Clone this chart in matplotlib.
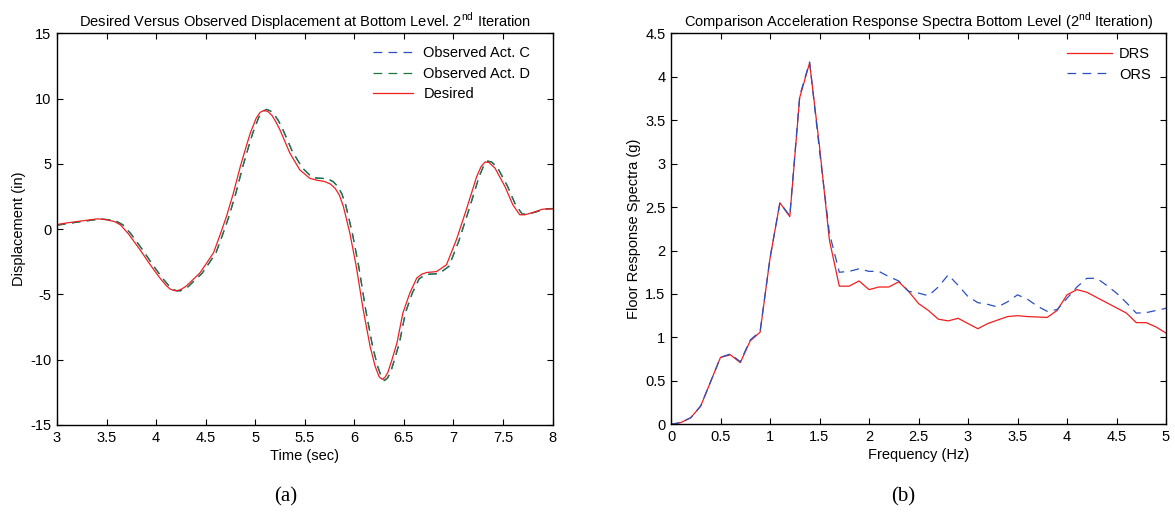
import matplotlib
matplotlib.use('Agg')
from matplotlib import pyplot as plt
from matplotlib.ticker import FuncFormatter

plt.rcParams['font.family'] = ['Liberation Sans', 'DejaVu Sans']
plt.rcParams['mathtext.fontset'] = 'custom'
plt.rcParams['mathtext.rm'] = 'Liberation Sans'

# Displacement history (time in sec, displacement in in)
t_des = [3.00, 3.10, 3.20, 3.30, 3.41, 3.50, 3.58, 3.64, 3.72, 3.84, 3.92, 3.99,
         4.05, 4.10, 4.14, 4.18, 4.22, 4.26, 4.30, 4.34,
         4.44, 4.51, 4.58, 4.645, 4.71, 4.78, 4.85, 4.90, 4.95,
         5.01, 5.05, 5.09, 5.13, 5.17, 5.21, 5.25,
         5.35, 5.45, 5.55, 5.62, 5.70, 5.76, 5.805, 5.85, 5.89, 5.955,
         6.02, 6.09, 6.16, 6.21, 6.25, 6.28, 6.31, 6.34, 6.38, 6.43, 6.49, 6.56,
         6.63, 6.68, 6.73, 6.83, 6.93,
         7.03, 7.13, 7.235, 7.28, 7.32, 7.36, 7.42, 7.52, 7.60, 7.67, 7.72, 7.80,
         7.90, 8.00]
d_des = [0.35, 0.48, 0.58, 0.68, 0.79, 0.72, 0.58, 0.33, -0.35, -1.6, -2.5, -3.25,
         -3.85, -4.3, -4.58, -4.7, -4.7, -4.58, -4.38, -4.1,
         -3.37, -2.6, -1.8, -0.45, 0.97, 2.76, 4.8, 6.1, 7.35,
         8.5, 8.95, 9.1, 9.0, 8.7, 8.2, 7.6,
         5.82, 4.54, 3.9, 3.75, 3.65, 3.45, 3.14, 2.6, 1.73, -0.3,
         -2.86, -6.18, -9.0, -10.5, -11.3, -11.5, -11.35, -10.95, -10.0, -8.73, -6.43, -4.9,
         -3.75, -3.45, -3.32, -3.25, -2.73,
         -0.82, 1.48, 4.03, 4.8, 5.15, 5.1, 4.67, 3.27, 1.86, 1.1, 1.1, 1.27,
         1.53, 1.55]

t_obs = [3.00, 3.125, 3.225, 3.325, 3.435, 3.525, 3.605, 3.665, 3.745, 3.865, 3.945, 4.015,
         4.075, 4.125, 4.165, 4.205, 4.245, 4.285, 4.325, 4.365,
         4.465, 4.535, 4.605, 4.67, 4.735, 4.805, 4.875, 4.925, 4.975,
         5.035, 5.075, 5.115, 5.155, 5.195, 5.235, 5.275,
         5.375, 5.475, 5.575, 5.645, 5.725, 5.785, 5.83, 5.875, 5.915, 5.98,
         6.045, 6.115, 6.185, 6.235, 6.275, 6.305, 6.335, 6.365, 6.405, 6.455, 6.515, 6.585,
         6.655, 6.705, 6.755, 6.855, 6.955,
         7.055, 7.155, 7.26, 7.305, 7.345, 7.385, 7.445, 7.545, 7.625, 7.695, 7.745, 7.825,
         7.925, 8.00]
d_obs_c = [0.30, 0.45, 0.56, 0.66, 0.78, 0.72, 0.58, 0.33, -0.35, -1.6, -2.5, -3.25,
           -3.85, -4.3, -4.6, -4.72, -4.72, -4.6, -4.4, -4.1,
           -3.37, -2.6, -1.8, -0.45, 0.97, 2.76, 4.8, 6.1, 7.35,
           8.55, 9.0, 9.18, 9.05, 8.75, 8.3, 7.7,
           5.95, 4.7, 3.95, 3.9, 3.88, 3.65, 3.3, 2.7, 1.8, -0.3,
           -2.86, -6.18, -9.0, -10.5, -11.35, -11.58, -11.4, -11.0, -10.0, -8.73, -6.43, -4.9,
           -3.8, -3.55, -3.45, -3.4, -2.85,
           -0.9, 1.45, 4.03, 4.85, 5.22, 5.15, 4.72, 3.3, 1.9, 1.15, 1.15, 1.3,
           1.55, 1.58]
d_obs_d = [0.30, 0.45, 0.56, 0.66, 0.78, 0.72, 0.58, 0.33, -0.35, -1.6, -2.5, -3.25,
           -3.85, -4.3, -4.6, -4.72, -4.72, -4.6, -4.4, -4.1,
           -3.37, -2.6, -1.8, -0.45, 0.97, 2.76, 4.8, 6.1, 7.35,
           8.55, 9.0, 9.16, 9.05, 8.75, 8.3, 7.7,
           5.95, 4.7, 3.95, 3.9, 3.86, 3.65, 3.3, 2.7, 1.8, -0.3,
           -2.86, -6.18, -9.0, -10.5, -11.35, -11.6, -11.4, -11.0, -10.0, -8.73, -6.43, -4.9,
           -3.8, -3.55, -3.45, -3.4, -2.85,
           -0.9, 1.45, 4.03, 4.85, 5.2, 5.15, 4.72, 3.3, 1.9, 1.15, 1.15, 1.3,
           1.55, 1.58]

# Floor response spectra (frequency in Hz, acceleration in g)
freq = [0.0, 0.1, 0.2, 0.3, 0.4, 0.5, 0.6, 0.7, 0.8, 0.9, 1.0,
        1.1, 1.2, 1.3, 1.4, 1.5, 1.6, 1.7, 1.8, 1.9, 2.0,
        2.1, 2.2, 2.3, 2.4, 2.5, 2.6, 2.7, 2.8, 2.9, 3.0,
        3.1, 3.2, 3.3, 3.4, 3.5, 3.6, 3.7, 3.8, 3.9, 4.0,
        4.1, 4.2, 4.3, 4.4, 4.5, 4.6, 4.7, 4.8, 4.9, 5.0]
drs = [0.0, 0.02, 0.076, 0.21, 0.49, 0.77, 0.80, 0.71, 0.96, 1.06, 1.91,
       2.55, 2.39, 3.76, 4.16, 3.2, 2.12, 1.59, 1.59, 1.65, 1.55,
       1.58, 1.58, 1.64, 1.53, 1.39, 1.31, 1.21, 1.19, 1.22, 1.16,
       1.10, 1.16, 1.20, 1.24, 1.25, 1.24, 1.235, 1.23, 1.31, 1.49,
       1.55, 1.52, 1.46, 1.40, 1.34, 1.28, 1.17, 1.17, 1.12, 1.05]
ors = [0.0, 0.02, 0.076, 0.21, 0.49, 0.77, 0.81, 0.72, 0.97, 1.07, 1.91,
       2.55, 2.40, 3.78, 4.17, 3.15, 2.2, 1.75, 1.76, 1.79, 1.76,
       1.76, 1.70, 1.65, 1.53, 1.51, 1.48, 1.58, 1.72, 1.60, 1.47,
       1.40, 1.38, 1.35, 1.41, 1.49, 1.44, 1.36, 1.30, 1.32, 1.45,
       1.58, 1.68, 1.68, 1.60, 1.51, 1.40, 1.28, 1.285, 1.31, 1.335]

fs = 10.5
blue = '#2a4fc0'
green = '#1b7a3e'
red = '#f01e1e'

fig = plt.figure(figsize=(11.75, 5.12), dpi=100)
ax1 = fig.add_axes([57 / 1175, 87 / 512, 495.5 / 1175, 391.7 / 512])
ax2 = fig.add_axes([671 / 1175, 87.7 / 512, 495 / 1175, 391 / 512])

# (a) displacement histories
ax1.plot(t_obs, d_obs_c, color=blue, lw=0.9, dashes=(7, 5), label='Observed Act. C')
ax1.plot(t_obs, d_obs_d, color=green, lw=0.9, dashes=(7, 5), label='Observed Act. D')
ax1.plot(t_des, d_des, color=red, lw=0.9, label='Desired')
ax1.set_xlim(3, 8)
ax1.set_ylim(-15, 15)
ax1.set_xticks([3, 3.5, 4, 4.5, 5, 5.5, 6, 6.5, 7, 7.5, 8])
ax1.set_yticks([-15, -10, -5, 0, 5, 10, 15])
ax1.set_title('Desired Versus Observed Displacement at Bottom Level. 2$^{\\rm nd}$ Iteration',
              fontsize=fs, pad=5)
ax1.set_xlabel('Time (sec)', fontsize=fs, labelpad=3)
ax1.set_ylabel('Displacement (in)', fontsize=fs, labelpad=3)
ax1.legend(loc='upper left', bbox_to_anchor=(0.638, 0.967), frameon=False,
           fontsize=fs, handlelength=2.75, handletextpad=0.7, labelspacing=0.45,
           borderpad=0, borderaxespad=0)

# (b) response spectra
ax2.plot(freq, drs, color=red, lw=0.9, label='DRS')
ax2.plot(freq, ors, color=blue, lw=0.9, dashes=(7, 5), label='ORS')
ax2.set_xlim(0, 5)
ax2.set_ylim(0, 4.5)
ax2.set_xticks([0, 0.5, 1, 1.5, 2, 2.5, 3, 3.5, 4, 4.5, 5])
ax2.set_yticks([0, 0.5, 1, 1.5, 2, 2.5, 3, 3.5, 4, 4.5])
ax2.set_title('Comparison Acceleration Response Spectra Bottom Level (2$^{\\rm nd}$ Iteration)',
              fontsize=fs, pad=5)
ax2.set_xlabel('Frequency (Hz)', fontsize=fs, labelpad=3)
ax2.set_ylabel('Floor Response Spectra (g)', fontsize=fs, labelpad=3)
ax2.legend(loc='upper left', bbox_to_anchor=(0.80, 0.965), frameon=False,
           fontsize=fs, handlelength=3.1, handletextpad=0.45, labelspacing=0.45,
           borderpad=0, borderaxespad=0)

fmt = FuncFormatter(lambda v, p: '%g' % v)
for ax in (ax1, ax2):
    ax.xaxis.set_major_formatter(fmt)
    ax.yaxis.set_major_formatter(fmt)
    ax.tick_params(direction='in', top=True, right=True, length=4, width=0.8,
                   labelsize=fs, pad=4)
    for sp in ax.spines.values():
        sp.set_linewidth(1.0)

fig.text(286 / 1175, 1 - 497 / 512, '(a)', family='Liberation Serif', fontsize=15,
         ha='center', va='center')
fig.text(903 / 1175, 1 - 497 / 512, '(b)', family='Liberation Serif', fontsize=15,
         ha='center', va='center')

fig.savefig('out.png', dpi=100)
